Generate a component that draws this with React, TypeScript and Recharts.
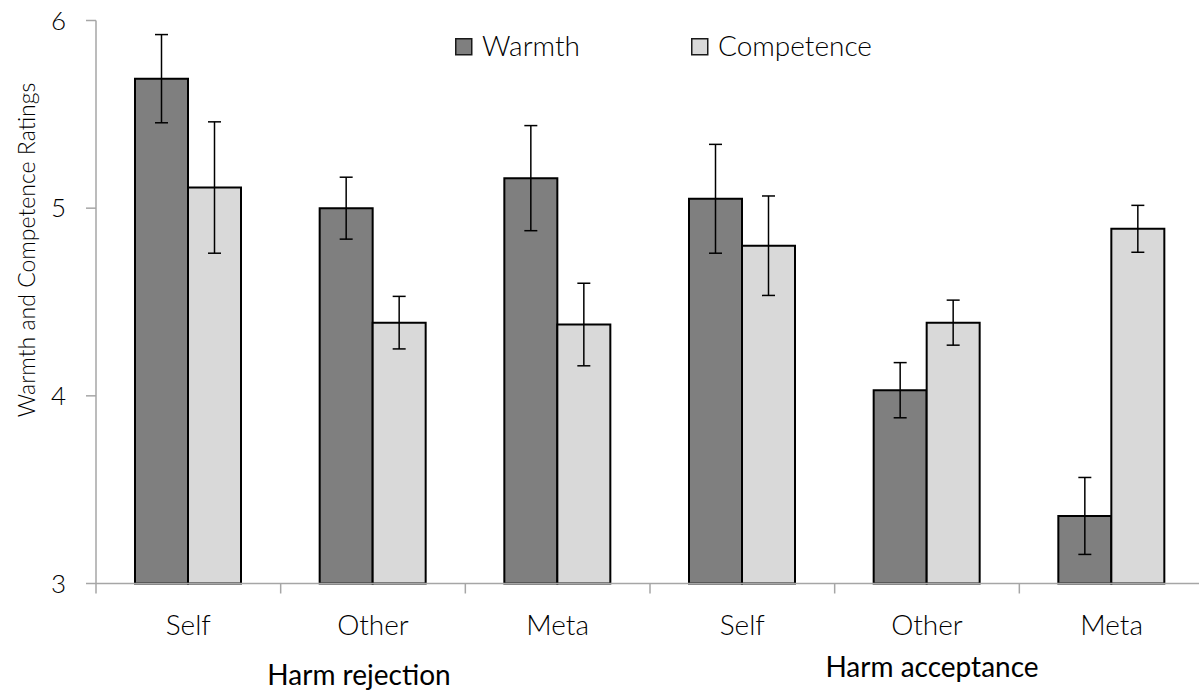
import { Bar, BarChart, ErrorBar, Legend, XAxis, YAxis } from "recharts";

const categories = ["Self", "Other", "Meta", "Self", "Other", "Meta"];
const warmth = [5.69, 5.0, 5.16, 5.05, 4.03, 3.36];
const warmthErr = [0.235, 0.165, 0.28, 0.29, 0.147, 0.205];
const competence = [5.11, 4.39, 4.38, 4.8, 4.39, 4.89];
const competenceErr = [0.35, 0.14, 0.22, 0.265, 0.12, 0.125];
const yTicks = [3, 4, 5, 6];
const edgeTicks = [0, 1, 2, 3, 4, 5, 6];
const groups = ["Harm rejection", "Harm acceptance"];

const WARM = "#7f7f7f";
const COMP = "#d9d9d9";
const AXIS = "#a6a6a6";
const FONT = "Lato, 'Open Sans', sans-serif";

const data = categories.map((name, i) => ({
  name,
  pos: i + 0.5,
  Warmth: warmth[i],
  warmthErr: warmthErr[i],
  Competence: competence[i],
  competenceErr: competenceErr[i],
}));

const renderLegend = () => (
  <svg width={1204} height={70} style={{ display: "block" }}>
    {[
      { label: "Warmth", fill: WARM, x: 455 },
      { label: "Competence", fill: COMP, x: 691 },
    ].map((it) => (
      <g key={it.label}>
        <rect x={it.x + 0.75} y={38.75} width={16} height={16} fill={it.fill} stroke="#1a1a1a" strokeWidth={1.5} />
        <text x={it.x + 27} y={55.5} fontSize={28} fontWeight={300} fill="#000" fontFamily={FONT}>
          {it.label}
        </text>
      </g>
    ))}
  </svg>
);

const YLabel = () => (
  <text
    x={35}
    y={250}
    transform="rotate(-90, 35, 250)"
    textAnchor="middle"
    fontSize={23}
    fontWeight={300}
    fill="#000"
    fontFamily={FONT}
  >
    Warmth and Competence Ratings
  </text>
);

export default function App() {
  return (
    <div
      style={{
        position: "fixed",
        left: 0,
        top: 0,
        width: 1199,
        height: 690,
        overflow: "hidden",
        background: "#fff",
        fontFamily: FONT,
        fontWeight: 300,
      }}
    >
      <BarChart
        width={1204}
        height={690}
        data={data}
        barGap={0}
        barSize={53}
        margin={{ top: 20.5, right: 0, left: 30, bottom: 46.5 }}
      >
        <XAxis
          xAxisId="b"
          dataKey="name"
          height={50}
          axisLine={false}
          tickLine={false}
          tickSize={0}
          tickMargin={21.5}
          interval={0}
          tick={{ fontSize: 28, fill: "#000", fontWeight: 300 }}
        />
        <XAxis
          xAxisId="a"
          type="number"
          dataKey="pos"
          domain={[0, 6]}
          ticks={edgeTicks}
          height={10}
          tickSize={10}
          tickFormatter={() => ""}
          stroke={AXIS}
          axisLine={{ stroke: AXIS, strokeWidth: 1.5 }}
          tickLine={{ stroke: AXIS, strokeWidth: 1.5 }}
        />
        <YAxis
          domain={[3, 6]}
          ticks={yTicks}
          width={66}
          tickSize={10}
          tickMargin={20}
          axisLine={{ stroke: AXIS, strokeWidth: 1.5 }}
          tickLine={{ stroke: AXIS, strokeWidth: 1.5 }}
          tick={{ fontSize: 26, fill: "#000", fontWeight: 300 }}
          label={{ content: YLabel }}
        />
        <Legend
          layout="horizontal"
          verticalAlign="middle"
          content={renderLegend}
          wrapperStyle={{ top: 0, left: 0, width: 1204, height: 70 }}
        />
        <Bar xAxisId="b" dataKey="Warmth" fill={WARM} stroke="#000" strokeWidth={2} isAnimationActive={false}>
          <ErrorBar dataKey="warmthErr" direction="y" width={6.5} stroke="#000" strokeWidth={1.5} />
        </Bar>
        <Bar xAxisId="b" dataKey="Competence" fill={COMP} stroke="#000" strokeWidth={2} isAnimationActive={false}>
          <ErrorBar dataKey="competenceErr" direction="y" width={6.5} stroke="#000" strokeWidth={1.5} />
        </Bar>
      </BarChart>
      <svg
        width={1199}
        height={690}
        style={{ position: "absolute", left: 0, top: 0, pointerEvents: "none" }}
      >
        <text x={359} y={685} textAnchor="middle" fontSize={28} fontWeight={400} fill="#000" fontFamily={FONT}>
          {groups[0]}
        </text>
        <text x={932} y={677} textAnchor="middle" fontSize={28} fontWeight={400} fill="#000" fontFamily={FONT}>
          {groups[1]}
        </text>
      </svg>
    </div>
  );
}
